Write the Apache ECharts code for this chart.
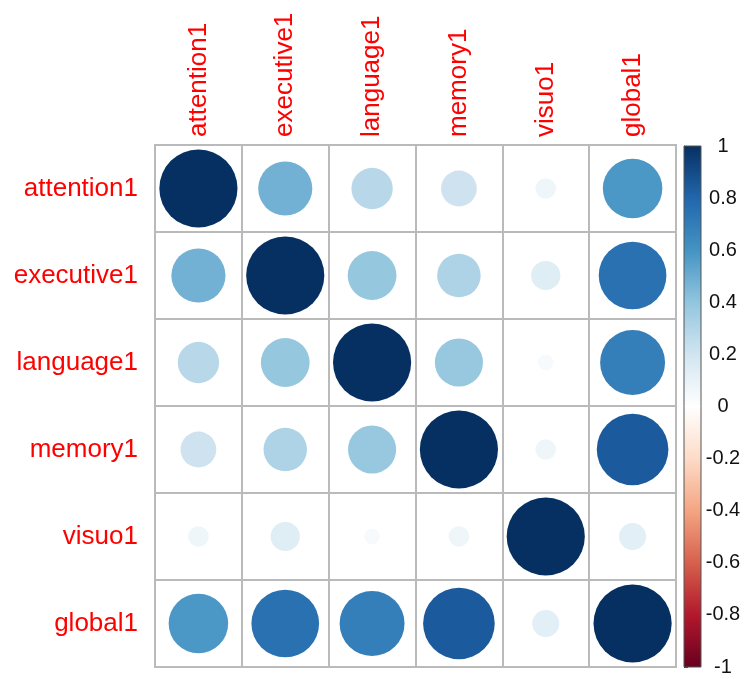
<!DOCTYPE html>
<html>
<head>
<meta charset="utf-8">
<script src="https://cdn.jsdelivr.net/npm/echarts@6/dist/echarts.min.js"></script>
<style>
html,body{margin:0;padding:0;background:#fff;}
#chart{width:745px;height:679px;}
</style>
</head>
<body>
<div id="chart"></div>
<script>
// ---- data ----
var variables = ['attention1', 'executive1', 'language1', 'memory1', 'visuo1', 'global1'];
var attention1 = [1.00, 0.48, 0.28, 0.21, 0.07, 0.58];
var executive1 = [0.48, 1.00, 0.39, 0.31, 0.14, 0.75];
var language1  = [0.28, 0.39, 1.00, 0.38, 0.04, 0.69];
var memory1    = [0.21, 0.31, 0.38, 1.00, 0.07, 0.84];
var visuo1     = [0.07, 0.14, 0.04, 0.07, 1.00, 0.12];
var global1    = [0.58, 0.75, 0.69, 0.84, 0.12, 1.00];
var colorTicks = [-1, -0.8, -0.6, -0.4, -0.2, 0, 0.2, 0.4, 0.6, 0.8, 1];
var palette = ['#67001F', '#B2182B', '#D6604D', '#F4A582', '#FDDBC7', '#FFFFFF',
               '#D1E5F0', '#92C5DE', '#4393C3', '#2166AC', '#053061'];

var rows = [attention1, executive1, language1, memory1, visuo1, global1];
var points = [];
rows.forEach(function (row, i) {
  row.forEach(function (v, j) { points.push([j, i, v]); });
});

var G = {left: 155, top: 145, width: 521, height: 522};
var CELL = G.width / variables.length;
var FONT = '"Liberation Sans", Arial, sans-serif';

var chart = echarts.init(document.getElementById('chart'));
chart.setOption({
  backgroundColor: '#fff',
  animation: false,
  grid: [
    {left: G.left, top: G.top, width: G.width, height: G.height, show: true,
     borderColor: '#bababa', borderWidth: 2, backgroundColor: 'transparent'},
    {left: 684, top: 146, width: 17, height: 521}
  ],
  xAxis: [
    {type: 'category', data: variables, position: 'top', gridIndex: 0,
     axisLine: {show: false}, axisTick: {show: false},
     splitLine: {show: true, interval: 0, lineStyle: {color: '#bababa', width: 2}},
     axisLabel: {rotate: -90, color: '#ff0000', fontSize: 26, fontFamily: FONT, margin: 8, interval: 0}},
    {type: 'value', gridIndex: 1, min: 0, max: 1, show: false}
  ],
  yAxis: [
    {type: 'category', data: variables, inverse: true, gridIndex: 0,
     axisLine: {show: false}, axisTick: {show: false},
     splitLine: {show: true, interval: 0, lineStyle: {color: '#bababa', width: 2}},
     axisLabel: {color: '#ff0000', fontSize: 26, fontFamily: FONT, margin: 17, interval: 0}},
    {type: 'value', gridIndex: 1, min: -1, max: 1, interval: 0.2, position: 'right',
     axisLine: {show: true, lineStyle: {color: '#444', width: 1}},
     axisTick: {show: true, length: 4, lineStyle: {color: '#444'}},
     splitLine: {show: false},
     axisLabel: {color: '#111', fontSize: 20, fontFamily: FONT, margin: 22, align: 'center',
                 formatter: function (v) { return String(+v.toFixed(1)); }}}
  ],
  visualMap: {
    show: false, type: 'continuous', min: -1, max: 1, dimension: 2, seriesIndex: 0,
    inRange: {color: palette}
  },
  series: [
    {type: 'scatter', xAxisIndex: 0, yAxisIndex: 0, data: points,
     symbol: 'circle',
     symbolSize: function (val) { return 0.9 * CELL * Math.sqrt(Math.abs(val[2])); },
     itemStyle: {opacity: 1}},
    {type: 'custom', xAxisIndex: 1, yAxisIndex: 1, data: [[0, 0]],
     renderItem: function (params, api) {
       var top = api.coord([0, 1]);
       var bot = api.coord([1, -1]);
       var stops = palette.map(function (c, k) {
         return {offset: 1 - k / (palette.length - 1), color: c};
       }).reverse();
       return {
         type: 'rect',
         shape: {x: top[0], y: top[1], width: bot[0] - top[0], height: bot[1] - top[1]},
         style: {fill: new echarts.graphic.LinearGradient(0, 0, 0, 1, stops),
                 stroke: '#555', lineWidth: 1}
       };
     }}
  ]
});
</script>
</body>
</html>
